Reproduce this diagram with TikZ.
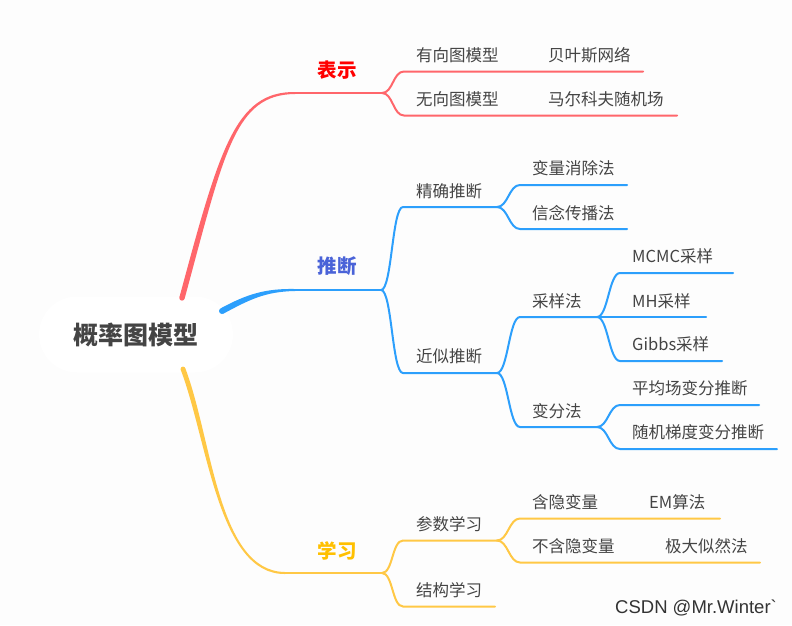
\documentclass[tikz,border=0pt]{standalone}
\usepackage{fontspec}
\setmainfont{Noto Sans CJK SC}
\newfontfamily\markfont{Liberation Sans}
\usetikzlibrary{calc}
\definecolor{pagebg}{HTML}{FDFDFD}
\definecolor{redline}{HTML}{FF666B}
\definecolor{blueline}{HTML}{2C9FFC}
\definecolor{yellowline}{HTML}{FFC845}
\definecolor{inktext}{HTML}{444444}
\definecolor{bluehead}{HTML}{4A63D8}
\definecolor{yellowhead}{HTML}{FFC000}
\tikzset{
    leaf/.style={anchor=west, inner sep=0pt, text=inktext, font=\fontsize{16.5}{18}\selectfont, text height=14.5pt, text depth=2pt},
    head/.style={anchor=center, inner sep=0pt, font=\fontsize{19.5}{22}\selectfont\bfseries},
    twig/.style={line width=2pt, line cap=round, to path={.. controls +(11,0) and +(-11,0) .. (\tikztotarget)}},
}
% thick end at the root, thin end at the first junction
\newcommand{\taperlink}[7]{
    \fill[#1] ($(#2)+(#6,#7)$) .. controls ($(#3)+(#6,#7)$) and ($(#4)+(0,1.6)$) .. ($(#5)+(0,1)$)
        -- ($(#5)+(0,-1)$) .. controls ($(#4)+(0,-1.6)$) and ($(#3)-(#6,#7)$) .. ($(#2)-(#6,#7)$) -- cycle;
    \fill[#1] (#2) circle ({veclen(#6,#7)});
}
\begin{document}
\begin{tikzpicture}[x=1pt, y=-1pt]
    \fill[pagebg] (0,0) rectangle (792,625);
    \useasboundingbox (0,0) rectangle (792,625);
    % root
    \node[fill=white, rounded corners=38pt, minimum width=194pt, minimum height=76pt, inner sep=0pt, text=inktext, font=\fontsize{25}{28}\selectfont\bfseries] (root) at (136,334.5) {概率图模型};
    \coordinate (rootR) at (182,298);
    \coordinate (rootB) at (222,311);
    \coordinate (rootY) at (183,369);
    % first junctions
    \coordinate (jBiaoshi) at (382,93);
    \coordinate (jTuiduan) at (381,290);
    \coordinate (jXuexi) at (382,573);
    % main branches
    \coordinate (kneeR) at (295,93);
    \coordinate (kneeB) at (295,290);
    \coordinate (kneeY) at (285,573);
    \coordinate (c1R) at (222,150);
    \coordinate (c2R) at (235,93);
    \coordinate (c1B) at (248,297);
    \coordinate (c2B) at (265,290);
    \coordinate (c1Y) at (210,440);
    \coordinate (c2Y) at (218,573);
    \taperlink{redline}{rootR}{c1R}{c2R}{kneeR}{2.6}{.7}
    \taperlink{blueline}{rootB}{c1B}{c2B}{kneeB}{1.3}{2.7}
    \taperlink{yellowline}{rootY}{c1Y}{c2Y}{kneeY}{-2.3}{.7}
    \draw[redline, line width=2pt] (kneeR) -- (jBiaoshi);
    \draw[blueline, line width=2pt] (kneeB) -- (jTuiduan);
    \draw[yellowline, line width=2pt] (kneeY) -- (jXuexi);
    \node[head, text=red] (biaoshi) at (337,70) {表示};
    \node[head, text=bluehead] (tuiduan) at (337,266) {推断};
    \node[head, text=yellowhead] (xuexi) at (337,551) {学习};

    % red side
    \node[leaf] (youxiang) at (416,55) {有向图模型};
    \node[leaf] (beiyesi) at (548,55) {贝叶斯网络};
    \node[leaf] (wuxiang) at (416,99) {无向图模型};
    \node[leaf] (maerkefu) at (548,99) {马尔科夫随机场};
    \coordinate (youxiangL) at (404,71.5);
    \coordinate (beiyesiR) at (643,71.5);
    \coordinate (wuxiangL) at (404,115.5);
    \coordinate (maerkefuR) at (677,115.5);
    \draw[redline, twig] (jBiaoshi) to (youxiangL) -- (beiyesiR);
    \draw[redline, twig] (jBiaoshi) to (wuxiangL) -- (maerkefuR);

    % blue side, upper
    \node[leaf] (jingque) at (416,191) {精确推断};
    \node[leaf] (bianliang) at (532,168) {变量消除法};
    \node[leaf] (xinnian) at (532,213) {信念传播法};
    \coordinate (jingqueL) at (403,207);
    \coordinate (jJingque) at (497,207);
    \coordinate (bianliangL) at (520,185);
    \coordinate (bianliangR) at (627,185);
    \coordinate (xinnianL) at (520,229);
    \coordinate (xinnianR) at (627,229);
    \draw[blueline, twig] (jTuiduan) to (jingqueL) -- (jJingque);
    \draw[blueline, twig] (jJingque) to (bianliangL) -- (bianliangR);
    \draw[blueline, twig] (jJingque) to (xinnianL) -- (xinnianR);

    % blue side, lower
    \node[leaf] (jinsi) at (416,356) {近似推断};
    \node[leaf] (caiyang) at (532,301) {采样法};
    \node[leaf] (bianfen) at (532,411) {变分法};
    \coordinate (jinsiL) at (403,373);
    \coordinate (jJinsi) at (497,373);
    \coordinate (caiyangL) at (520,317);
    \coordinate (jCaiyang) at (597,317);
    \coordinate (bianfenL) at (520,427);
    \coordinate (jBianfen) at (597,427);
    \draw[blueline, twig] (jTuiduan) to (jinsiL) -- (jJinsi);
    \draw[blueline, twig] (jJinsi) to (caiyangL) -- (jCaiyang);
    \draw[blueline, twig] (jJinsi) to (bianfenL) -- (jBianfen);

    \node[leaf] (mcmc) at (632,256) {MCMC采样};
    \node[leaf] (mh) at (632,301) {MH采样};
    \node[leaf] (gibbs) at (632,344) {Gibbs采样};
    \node[leaf] (pingjun) at (632,388) {平均场变分推断};
    \node[leaf] (suiji) at (632,432) {随机梯度变分推断};
    \coordinate (mcmcL) at (620,273);
    \coordinate (mcmcR) at (733,273);
    \coordinate (mhR) at (706,317);
    \coordinate (gibbsL) at (620,361);
    \coordinate (gibbsR) at (722,361);
    \coordinate (pingjunL) at (620,405);
    \coordinate (pingjunR) at (759,405);
    \coordinate (suijiL) at (620,449);
    \coordinate (suijiR) at (777,449);
    \draw[blueline, twig] (jCaiyang) to (mcmcL) -- (mcmcR);
    \draw[blueline, line width=2pt, line cap=round] (jCaiyang) -- (mhR);
    \draw[blueline, twig] (jCaiyang) to (gibbsL) -- (gibbsR);
    \draw[blueline, twig] (jBianfen) to (pingjunL) -- (pingjunR);
    \draw[blueline, twig] (jBianfen) to (suijiL) -- (suijiR);

    % yellow side
    \node[leaf] (canshu) at (416,524) {参数学习};
    \node[leaf] (jiegou) at (416,590) {结构学习};
    \node[leaf] (hanyin) at (532,502) {含隐变量};
    \node[leaf] (em) at (649,502) {EM算法};
    \node[leaf] (buhan) at (532,546) {不含隐变量};
    \node[leaf] (jida) at (665,546) {极大似然法};
    \coordinate (canshuL) at (403,540.5);
    \coordinate (jCanshu) at (497,540.5);
    \coordinate (jiegouL) at (403,606.5);
    \coordinate (jiegouR) at (495,606.5);
    \coordinate (hanyinL) at (520,518.5);
    \coordinate (emR) at (720,518.5);
    \coordinate (buhanL) at (520,562.5);
    \coordinate (jidaR) at (760,562.5);
    \draw[yellowline, twig] (jXuexi) to (canshuL) -- (jCanshu);
    \draw[yellowline, twig] (jXuexi) to (jiegouL) -- (jiegouR);
    \draw[yellowline, twig] (jCanshu) to (hanyinL) -- (emR);
    \draw[yellowline, twig] (jCanshu) to (buhanL) -- (jidaR);

    % watermark
    \node[anchor=west, inner sep=0pt, text=black!80, font=\markfont\fontsize{18.5}{20}\selectfont] (mark) at (615,608) {CSDN @Mr.Winter\char`\`};
\end{tikzpicture}
\end{document}
